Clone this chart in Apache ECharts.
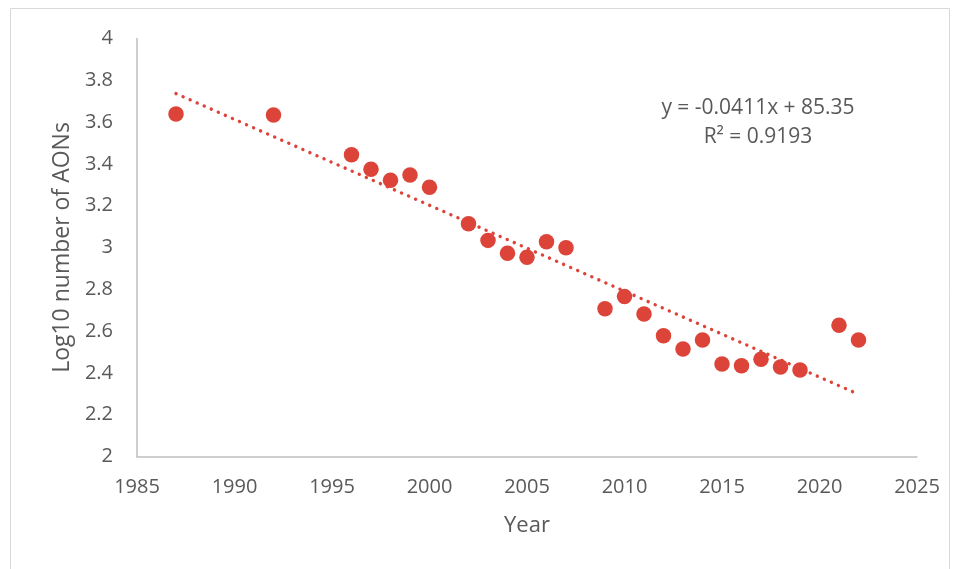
<!DOCTYPE html>
<html>
<head>
<meta charset="utf-8">
<script src="https://cdn.jsdelivr.net/npm/echarts@6/dist/echarts.min.js"></script>
<style>
html,body{margin:0;padding:0;background:#fff;}
#chart{width:958px;height:569px;}
</style>
</head>
<body>
<div id="chart"></div>
<script>
var years = [1987, 1992, 1996, 1997, 1998, 1999, 2000, 2002, 2003, 2004, 2005, 2006, 2007, 2009, 2010, 2011, 2012, 2013, 2014, 2015, 2016, 2017, 2018, 2019, 2021, 2022];
var logAONs = [3.639, 3.634, 3.444, 3.374, 3.322, 3.347, 3.288, 3.114, 3.034, 2.972, 2.953, 3.028, 2.999, 2.707, 2.765, 2.682, 2.578, 2.514, 2.557, 2.443, 2.434, 2.465, 2.428, 2.414, 2.628, 2.557];
var xTicks = [1985, 1990, 1995, 2000, 2005, 2010, 2015, 2020, 2025];
var yTicks = [2, 2.2, 2.4, 2.6, 2.8, 3, 3.2, 3.4, 3.6, 3.8, 4];
var trendText = ['y = -0.0411x + 85.35', 'R² = 0.9193'];

// least squares fit from the data (trendline)
var n = years.length, sx = 0, sy = 0, sxx = 0, sxy = 0;
for (var i = 0; i < n; i++) { sx += years[i]; sy += logAONs[i]; sxx += years[i]*years[i]; sxy += years[i]*logAONs[i]; }
var slope = (n*sxy - sx*sy) / (n*sxx - sx*sx);
var icpt = (sy - slope*sx) / n;
var x0 = years[0], x1 = years[n-1];
var trend = [[x0, icpt + slope*x0], [x1, icpt + slope*x1]];

var pts = years.map(function(y, i){ return [y, logAONs[i]]; });
var FONT = 'Open Sans';
var TXT = '#595959';
var RED = '#DD4439';

var chart = echarts.init(document.getElementById('chart'), null, {renderer: 'canvas'});
chart.setOption({
  animation: false,
  backgroundColor: '#fff',
  grid: {left: 137, right: 41, top: 38.5, bottom: 112.5},
  xAxis: {
    type: 'value', min: 1985, max: 2025, interval: 5,
    axisLine: {show: true, lineStyle: {color: '#BFBFBF', width: 1.5}},
    axisTick: {show: false},
    splitLine: {show: false},
    axisLabel: {color: TXT, fontFamily: FONT, fontSize: 20, margin: 21,
      formatter: function(v){ return xTicks.indexOf(v) >= 0 ? String(v) : ''; }},
    name: 'Year', nameLocation: 'middle', nameGap: 58,
    nameTextStyle: {color: TXT, fontFamily: FONT, fontSize: 22}
  },
  yAxis: {
    type: 'value', min: 2, max: 4, interval: 0.2,
    axisLine: {show: true, lineStyle: {color: '#BFBFBF', width: 1.5}},
    axisTick: {show: false},
    splitLine: {show: false},
    axisLabel: {color: TXT, fontFamily: FONT, fontSize: 20, margin: 24,
      formatter: function(v){
        var r = Math.round(v*10)/10;
        return yTicks.indexOf(r) >= 0 ? String(r) : '';
      }},
    name: 'Log10 number of AONs', nameLocation: 'middle', nameGap: 63,
    nameTextStyle: {color: TXT, fontFamily: FONT, fontSize: 23}
  },
  graphic: [
    {type: 'rect', shape: {x: 10.5, y: 8.5, width: 939, height: 600},
     style: {fill: 'none', stroke: '#D9D9D9', lineWidth: 1}, silent: true, z: -1},
    {type: 'text', x: 758, y: 108,
     style: {text: trendText[0], fill: TXT, font: '21px "Open Sans"', align: 'center', verticalAlign: 'middle'}},
    {type: 'text', x: 758, y: 137,
     style: {text: trendText[1], fill: TXT, font: '21px "Open Sans"', align: 'center', verticalAlign: 'middle'}}
  ],
  series: [
    {
      type: 'line', data: trend, symbol: 'none', z: 3,
      lineStyle: {color: RED, width: 3.4, type: [0.1, 7.6], cap: 'round'}
    },
    {
      type: 'scatter', data: pts, symbol: 'circle', symbolSize: 15.5, z: 2,
      itemStyle: {color: RED, opacity: 1}
    }
  ]
});
</script>
</body>
</html>
